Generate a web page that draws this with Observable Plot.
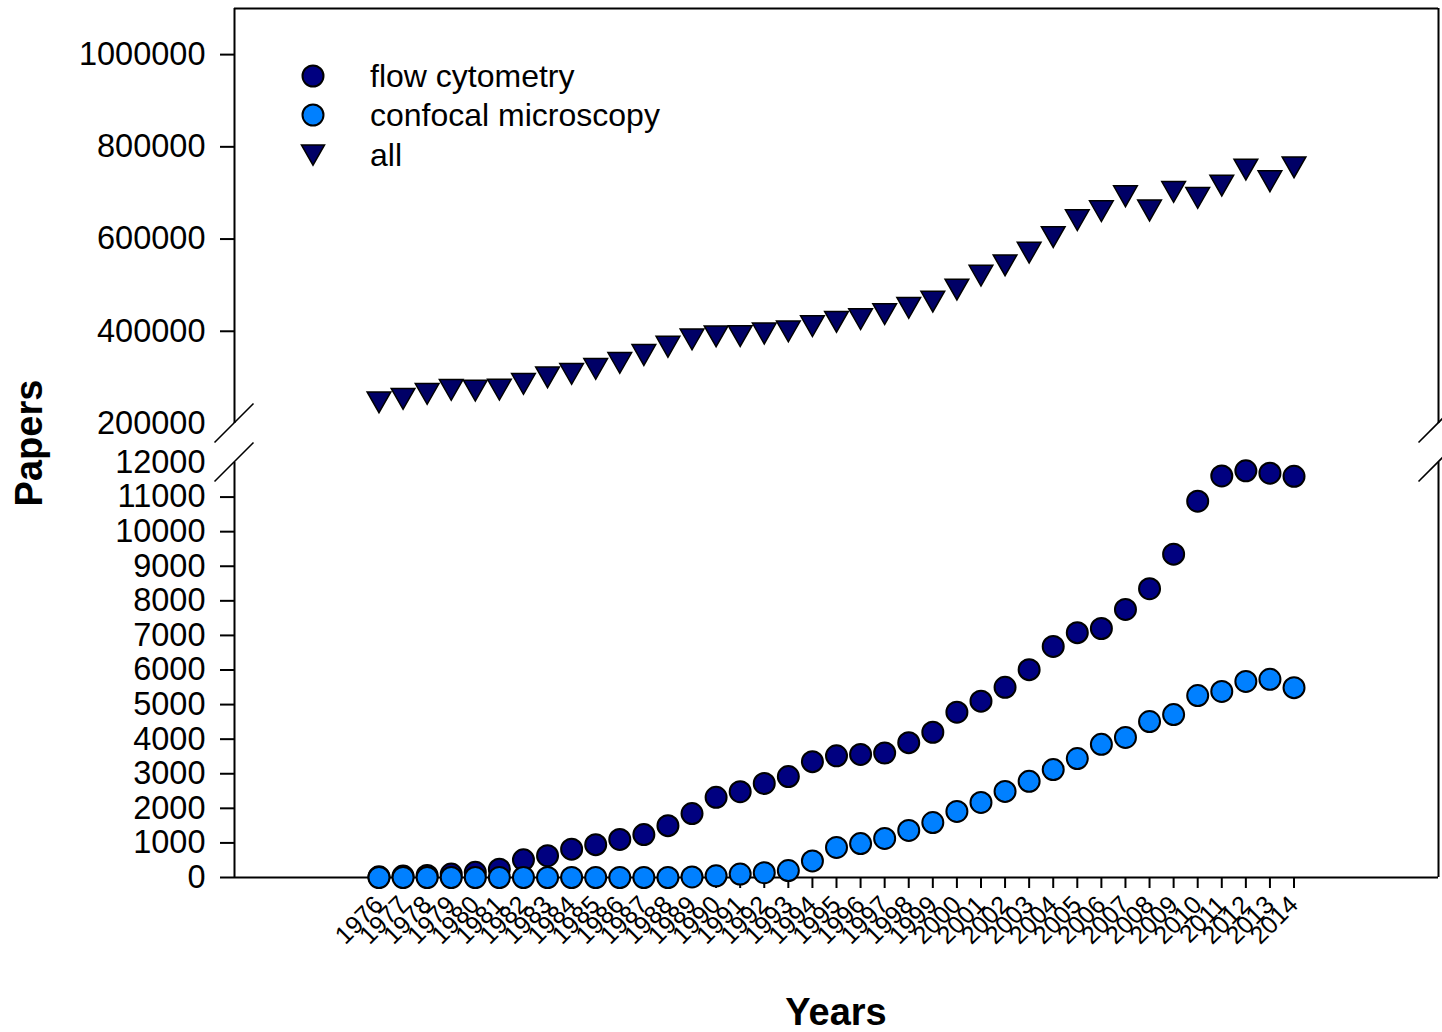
<!DOCTYPE html>
<html><head><meta charset="utf-8">
<script src="https://cdn.jsdelivr.net/npm/d3@7"></script>
<script src="https://cdn.jsdelivr.net/npm/@observablehq/plot@0.6"></script>
<style>
html,body{margin:0;padding:0;background:#fff;}
#wrap{position:relative;width:1442px;height:1032px;overflow:hidden;background:#fff;font-family:"Liberation Sans",Arial,sans-serif;}
#top,#bottom{position:absolute;left:0;}
#top{top:0;}
#bottom{top:445px;}
#overlay{position:absolute;left:0;top:0;pointer-events:none;}
</style></head>
<body><div id="wrap"><div id="top"></div><div id="bottom"></div><svg id="overlay" width="1442" height="1032"></svg></div>
<script>
// ---- data ----
const years = [1976,1977,1978,1979,1980,1981,1982,1983,1984,1985,1986,1987,1988,1989,1990,1991,1992,1993,1994,1995,1996,1997,1998,1999,2000,2001,2002,2003,2004,2005,2006,2007,2008,2009,2010,2011,2012,2013,2014];
const flowCytometry = [20,40,60,100,150,240,510,630,820,950,1100,1240,1500,1850,2320,2480,2720,2920,3350,3520,3560,3600,3900,4200,4780,5100,5500,6010,6680,7080,7200,7750,8350,9350,10880,11610,11760,11690,11600];
const confocalMicroscopy = [0,0,0,0,0,0,0,0,0,0,0,0,0,15,50,100,140,200,480,870,980,1130,1360,1590,1910,2170,2490,2780,3120,3440,3850,4050,4510,4710,5260,5380,5670,5730,5490];
const allPapers = [246000,253400,264200,272900,271300,273500,285800,300100,307500,318300,331300,348600,366500,382300,389000,389600,395200,399600,411200,420500,426400,437200,450800,464400,490400,520600,543000,570400,604300,641000,660500,692900,662000,702200,689200,716000,750700,725400,755600];
const yTicksTop = [200000,400000,600000,800000,1000000];
const yTicksBottom = [0,1000,2000,3000,4000,5000,6000,7000,8000,9000,10000,11000,12000];
const seriesNames = ["flow cytometry","confocal microscopy","all"];
const colors = {flow:"#000080", confocal:"#0080ff", all:"#000066"};

// ---- layout ----
const W = 1442;
const FONT = '"Liberation Sans", Arial, sans-serif';
const xDomain = [1970, 2020];
const fmt = d => String(d);

const downTriangle = {
  draw(context, size) {
    const r = Math.sqrt(size / Math.PI);
    const w = r * 1.05, h = r * 0.92;
    context.moveTo(-w, -h);
    context.lineTo(w, -h);
    context.lineTo(0, h);
    context.closePath();
  }
};

const allData = years.map((y, i) => ({year: y, v: allPapers[i]}));
const flowData = years.map((y, i) => ({year: y, v: flowCytometry[i]}));
const confData = years.map((y, i) => ({year: y, v: confocalMicroscopy[i]}));

const style = {fontFamily: FONT, fontSize: "32px", color: "#000", background: "transparent", overflow: "visible"};

const topPlot = Plot.plot({
  width: W, height: 445, marginLeft: 234, marginRight: 4, marginTop: 8, marginBottom: 22,
  style,
  x: {domain: xDomain, axis: null},
  y: {domain: [200000, 1100000]},
  marks: [
    Plot.ruleX(xDomain, {stroke: "#000", strokeWidth: 2}),
    Plot.ruleY([1100000], {stroke: "#000", strokeWidth: 2}),
    Plot.axisY(yTicksTop.slice(1), {tickSize: 14, tickPadding: 15, tickFormat: fmt, fontSize: 32.5, strokeWidth: 2, label: null}),
    Plot.axisY(yTicksTop.slice(0, 1), {tickSize: 0, tickPadding: 29, tickFormat: fmt, fontSize: 32.5, label: null}),
    Plot.dot(allData, {x: "year", y: "v", symbol: downTriangle, r: 11.3, fill: colors.all, stroke: "#000", strokeWidth: 1.5})
  ]
});
document.getElementById("top").appendChild(topPlot);

const bottomPlot = Plot.plot({
  width: W, height: 587, marginLeft: 234, marginRight: 4, marginTop: 17, marginBottom: 155,
  style,
  x: {domain: xDomain},
  y: {domain: [0, 12000]},
  marks: [
    Plot.ruleX(xDomain, {stroke: "#000", strokeWidth: 2}),
    Plot.axisY(yTicksBottom.slice(0, -1), {tickSize: 14, tickPadding: 15, tickFormat: fmt, fontSize: 32.5, strokeWidth: 2, label: null}),
    Plot.axisY(yTicksBottom.slice(-1), {tickSize: 0, tickPadding: 29, tickFormat: fmt, fontSize: 32.5, label: null}),
    Plot.axisX(years, {tickSize: 11, tickPadding: 12, tickRotate: -45, tickFormat: fmt, fontSize: 25, strokeWidth: 2, label: null}),
    Plot.ruleY([0], {stroke: "#000", strokeWidth: 2}),
    Plot.dot(flowData, {x: "year", y: "v", r: 10.5, fill: colors.flow, stroke: "#000", strokeWidth: 2}),
    Plot.dot(confData, {x: "year", y: "v", r: 10.5, fill: colors.confocal, stroke: "#000", strokeWidth: 2})
  ]
});
document.getElementById("bottom").appendChild(bottomPlot);

// ---- overlay: axis breaks, legend, axis titles ----
const svg = d3.select("#overlay");
const BOTTOM_TOP = 445;
const xs = topPlot.scale("x");
const ytop = topPlot.scale("y");
const ybot = bottomPlot.scale("y");
const xL = xs.apply(xDomain[0]), xR = xs.apply(xDomain[1]);
const yBreakTop = ytop.apply(200000);
const yBreakBot = ybot.apply(12000) + BOTTOM_TOP;
const s = 19.5;
for (const x of [xL, xR]) {
  for (const y of [yBreakTop, yBreakBot]) {
    svg.append("line").attr("x1", x - s).attr("y1", y + s).attr("x2", x + s).attr("y2", y - s)
      .attr("stroke", "#000").attr("stroke-width", 1.6);
  }
}

// legend
const lg = svg.append("g").attr("font-family", FONT).attr("font-size", 32);
const legendRows = [
  {name: seriesNames[0], fill: colors.flow, sym: "circle"},
  {name: seriesNames[1], fill: colors.confocal, sym: "circle"},
  {name: seriesNames[2], fill: colors.all, sym: "tri"}
];
const rowY = [76, 115, 155];
legendRows.forEach((d, i) => {
  const cy = rowY[i];
  if (d.sym === "circle") {
    lg.append("circle").attr("cx", 313).attr("cy", cy).attr("r", 10.5)
      .attr("fill", d.fill).attr("stroke", "#000").attr("stroke-width", 2);
  } else {
    lg.append("path").attr("transform", `translate(313,${cy})`)
      .attr("d", d3.symbol().type(downTriangle).size(Math.PI * 121)())
      .attr("fill", d.fill).attr("stroke", "#000").attr("stroke-width", 1.5);
  }
  lg.append("text").attr("x", 370).attr("y", cy + 11).text(d.name);
});

// axis titles
svg.append("text").attr("transform", "translate(42,443) rotate(-90)")
  .attr("text-anchor", "middle").attr("font-family", FONT).attr("font-weight", "bold").attr("font-size", 38).text("Papers");
svg.append("text").attr("x", (xL + xR) / 2).attr("y", 1025)
  .attr("text-anchor", "middle").attr("font-family", FONT).attr("font-weight", "bold").attr("font-size", 38).text("Years");
</script>
</body></html>
